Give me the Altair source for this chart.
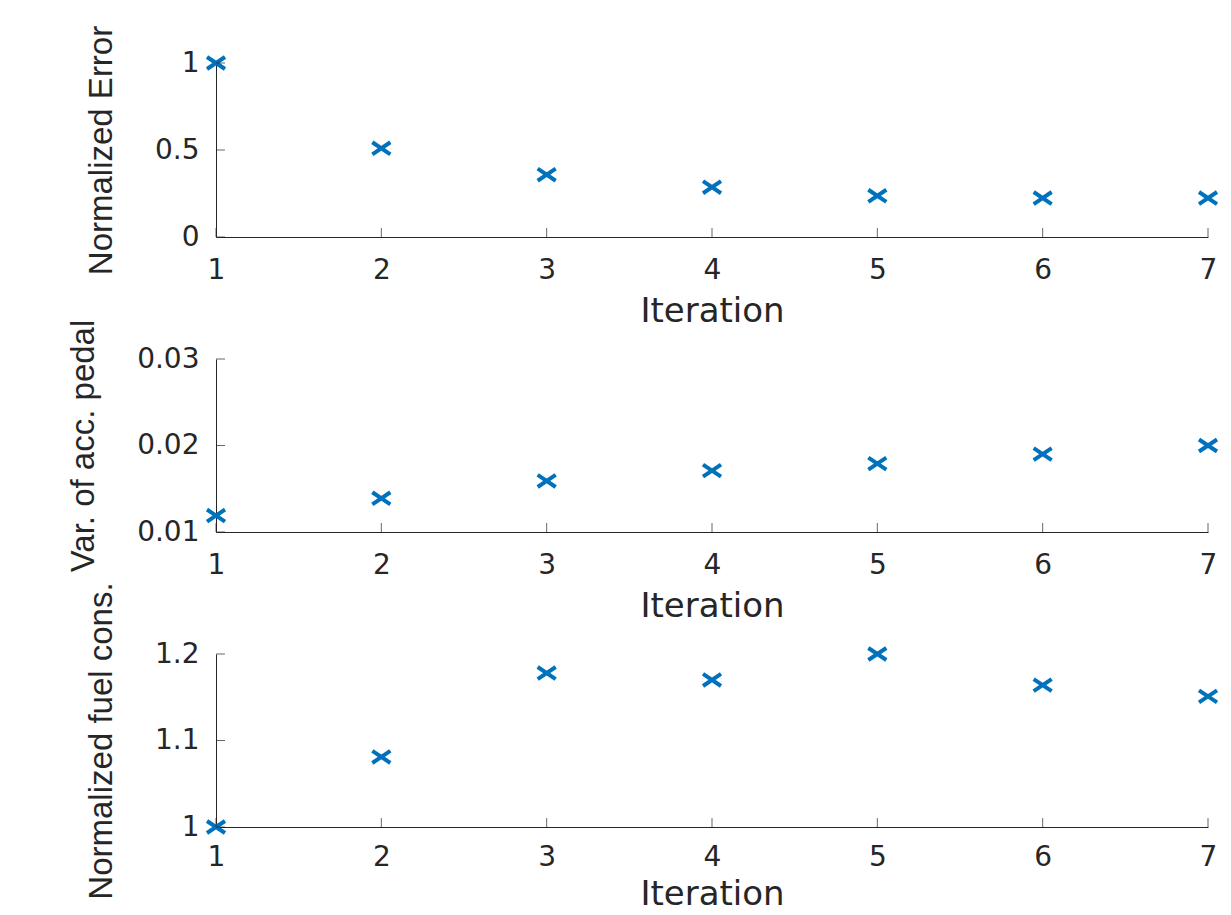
import altair as alt
import pandas as pd

iterations = [1, 2, 3, 4, 5, 6, 7]
norm_error = [1.0, 0.510, 0.358, 0.286, 0.237, 0.224, 0.224]
acc_var = [0.0119, 0.0139, 0.0159, 0.0171, 0.0179, 0.0190, 0.0200]
fuel_cons = [1.0, 1.081, 1.178, 1.170, 1.200, 1.164, 1.151]

err_ticks = [0, 0.5, 1]
acc_ticks = [0.01, 0.02, 0.03]
fuel_ticks = [1.0, 1.1, 1.2]

titles = ["Normalized Error", "Var. of acc. pedal", "Normalized fuel cons."]

AX = "#262626"
BLUE = "#0072BD"
W = 992
X_PATH = "M-1,-0.67L1,0.67M-1,0.67L1,-0.67"


def panel(values, yticks, title, h, xlabel_pad, xtitle_pad):
    df = pd.DataFrame({"it": iterations, "v": values})
    xt = pd.DataFrame({"it": iterations})
    yt = pd.DataFrame({"v": yticks})
    xscale = alt.Scale(domain=[iterations[0], iterations[-1]], nice=False, zero=False)
    yscale = alt.Scale(domain=[yticks[0], yticks[-1]], nice=False, zero=False)
    xaxis = alt.Axis(
        values=iterations, format="d", title="Iteration", ticks=False, tickSize=0,
        grid=False, domainColor=AX, domainWidth=1, labelColor=AX, labelFlush=False,
        labelFont="DejaVu Sans", labelFontSize=28, labelPadding=xlabel_pad,
        titleFont="DejaVu Sans", titleFontSize=34, titleFontWeight="normal",
        titleColor=AX, titlePadding=xtitle_pad)
    yaxis = alt.Axis(
        values=yticks, format="~g", title=title, ticks=False, tickSize=0,
        grid=False, domainColor=AX, domainWidth=1, labelColor=AX, labelFlush=False,
        labelFont="DejaVu Sans", labelFontSize=28, labelPadding=17,
        titleFont="Liberation Sans", titleFontSize=33,
        titleFontWeight="normal", titleColor=AX, titlePadding=36)
    pts = alt.Chart(df).mark_point(
        shape=X_PATH, size=324, strokeWidth=4, color=BLUE, filled=False, opacity=1
    ).encode(
        x=alt.X("it:Q", scale=xscale, axis=xaxis),
        y=alt.Y("v:Q", scale=yscale, axis=yaxis),
    )
    xtk = alt.Chart(xt).mark_tick(orient="vertical", size=9, thickness=1, color=AX).encode(
        x=alt.X("it:Q", scale=xscale, axis=xaxis), y=alt.value(h - 4.5))
    ytk = alt.Chart(yt).mark_tick(orient="horizontal", size=9, thickness=1, color=AX).encode(
        y=alt.Y("v:Q", scale=yscale, axis=yaxis), x=alt.value(4.5))
    return alt.layer(pts, xtk, ytk).properties(width=W, height=h)


chart = alt.vconcat(
    panel(norm_error, err_ticks, titles[0], 174, 19, 10),
    panel(acc_var, acc_ticks, titles[1], 173, 19, 10),
    panel(fuel_cons, fuel_ticks, titles[2], 173, 16, 6),
    spacing=122, bounds="flush",
).properties(
    padding={"left": 67, "top": 25, "right": 4, "bottom": 0},
    background="white",
).configure_view(stroke=None)

chart.save("out.html", embed_options={"renderer": "svg", "actions": False})
